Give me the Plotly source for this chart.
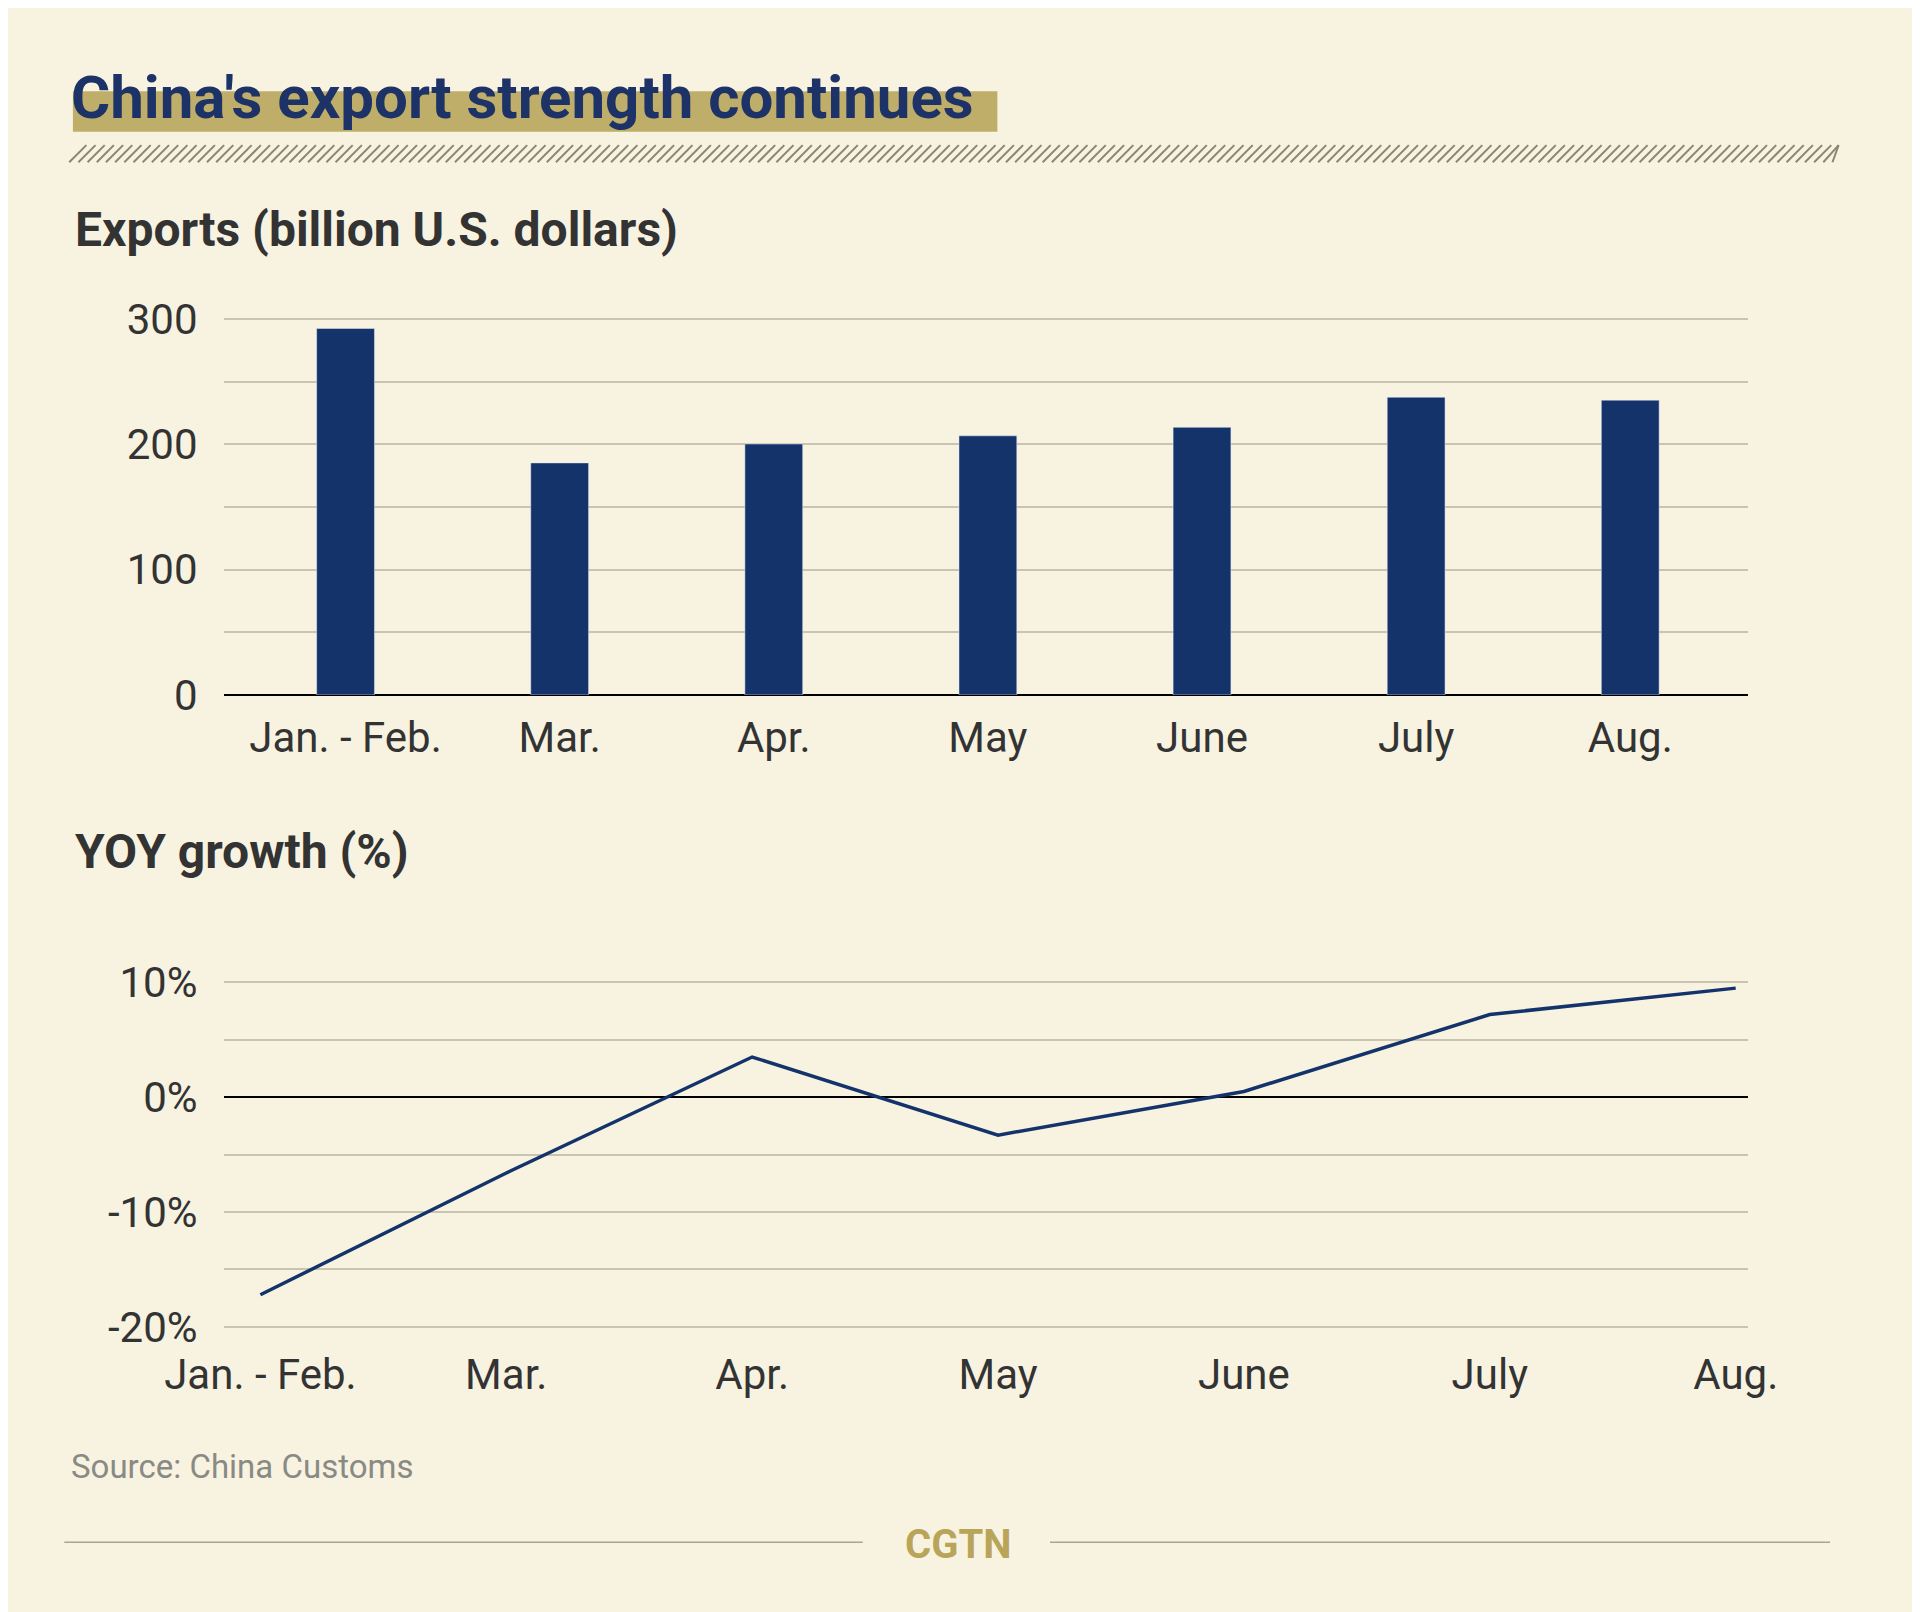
import plotly.graph_objects as go

months = ["Jan. - Feb.", "Mar.", "Apr.", "May", "June", "July", "Aug."]
exports = [292.5, 185.2, 200.3, 206.8, 213.6, 237.6, 235.3]
yoy = [-17.2, -6.6, 3.5, -3.3, 0.5, 7.2, 9.5]
bar_ticks = [0, 50, 100, 150, 200, 250, 300]
bar_ticklabels = ["0", "", "100", "", "200", "", "300"]
yoy_ticks = [-20, -15, -10, -5, 0, 5, 10]
yoy_ticklabels = ["-20%", "", "-10%", "", "0%", "", "10%"]

W, H = 1920, 1612
S = W / 1568.0
def px(x): return (x - 7) * S / W
def py(y): return 1 - (y - 7) * S / H

BG = "#f8f3e1"
NAVY = "#14336b"
GRID = "#c9c3b1"
FONT = "Roboto"

fig = go.Figure()
fig.add_trace(go.Bar(x=list(range(len(months))), y=exports, marker_color=NAVY,
                     width=0.27, xaxis="x", yaxis="y", hoverinfo="skip"))
fig.add_trace(go.Scatter(x=list(range(len(months))), y=yoy, mode="lines",
                         line=dict(color=NAVY, width=3.5), xaxis="x2", yaxis="y2"))

tickfont = dict(family=FONT, size=42, color="#333333")
fig.update_layout(
    width=W, height=H, paper_bgcolor=BG, plot_bgcolor=BG, showlegend=False,
    margin=dict(l=0, r=0, t=0, b=0, pad=0, autoexpand=False),
    xaxis=dict(domain=[px(183), px(1428)], range=[-0.57, 6.55], automargin=False,
               tickvals=list(range(7)), ticktext=months, tickfont=tickfont, ticklabelstandoff=14,
               showgrid=False, zeroline=False, showline=False, ticks="", fixedrange=True),
    yaxis=dict(domain=[py(568), py(259)], range=[0, 302], tickvals=bar_ticks, automargin=False,
               ticktext=bar_ticklabels, tickfont=tickfont,
               gridcolor=GRID, gridwidth=1.5, zeroline=True, zerolinecolor="#000", zerolinewidth=2,
               ticklabelstandoff=25, fixedrange=True),
    xaxis2=dict(domain=[px(183), px(1428)], range=[-0.15, 6.05], anchor="y2", automargin=False,
                tickvals=list(range(7)), ticktext=months, tickfont=tickfont, ticklabelstandoff=18,
                showgrid=False, zeroline=False, showline=False, ticks="", fixedrange=True),
    yaxis2=dict(domain=[py(1085), py(784)], range=[-20.1, 12], anchor="x2", automargin=False,
                tickvals=yoy_ticks, ticktext=yoy_ticklabels, tickfont=tickfont,
                gridcolor=GRID, gridwidth=1.5, zeroline=True, zerolinecolor="#000", zerolinewidth=2,
                ticklabelstandoff=25, fixedrange=True),
)

shapes = []
shapes.append(dict(type="rect", xref="paper", yref="paper", x0=px(60), x1=px(815),
                   y0=py(108), y1=py(75), fillcolor="#bfae6a", line=dict(width=0), layer="below"))
x = 57
while x < 1502:
    shapes.append(dict(type="line", xref="paper", yref="paper",
                       x0=px(x), y0=py(133), x1=px(min(x + 14, 1502)), y1=py(119),
                       line=dict(color="#8a8574", width=2)))
    x += 7.5
for a, b in [(53, 705), (858, 1495)]:
    shapes.append(dict(type="line", xref="paper", yref="paper", x0=px(a), x1=px(b),
                       y0=py(1260), y1=py(1260), line=dict(color="#a9a390", width=1.5)))
fig.update_layout(shapes=shapes)

ann = [
    dict(text="<b>China's export strength continues</b>", x=px(57), y=py(80), xanchor="left", yanchor="middle",
         font=dict(family=FONT, size=60, color="#1d3266")),
    dict(text="<b>Exports (billion U.S. dollars)</b>", x=px(60), y=py(188), xanchor="left", yanchor="middle",
         font=dict(family=FONT, size=48, color="#333333")),
    dict(text="<b>YOY growth (%)</b>", x=px(60), y=py(696), xanchor="left", yanchor="middle",
         font=dict(family=FONT, size=48, color="#333333")),
    dict(text="Source: China Customs", x=px(57), y=py(1198), xanchor="left", yanchor="middle",
         font=dict(family=FONT, size=33, color="#8a8a85")),
    dict(text="<b>CGTN</b>", x=px(783), y=py(1262), xanchor="center", yanchor="middle",
         font=dict(family=FONT, size=40, color="#b8a55a")),
]
for a in ann:
    a.update(xref="paper", yref="paper", showarrow=False)
fig.update_layout(annotations=ann)

fig.write_html("out.html")
